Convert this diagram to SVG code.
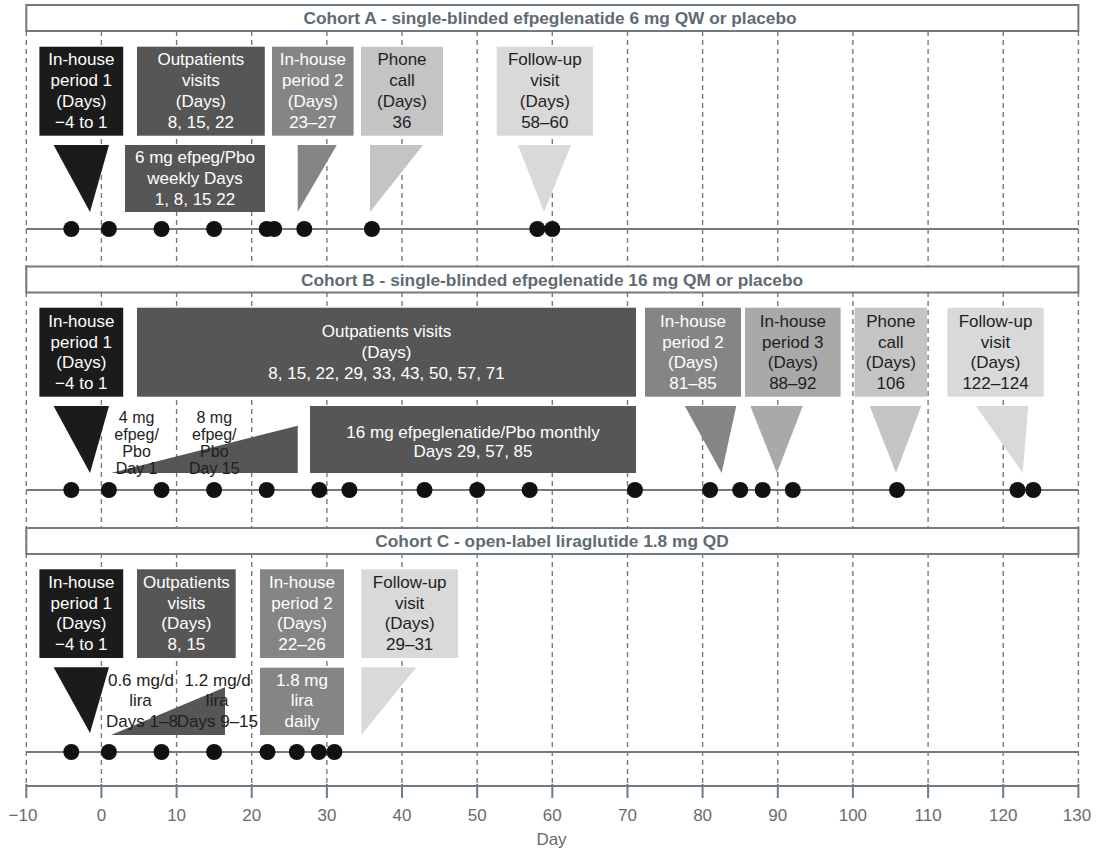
<svg xmlns="http://www.w3.org/2000/svg" width="1099" height="850" viewBox="0 0 1099 850">
<style>
text{font-family:"Liberation Sans",Arial,sans-serif;font-size:17px;text-anchor:middle}
.hdr{font-weight:bold;fill:#5e6b73;font-size:17.3px}
.hbox{fill:#fff;stroke:#6e7b84;stroke-width:2}
.base{stroke:#6e7b84;stroke-width:2;fill:none}
.grid{stroke:#7a7a7a;stroke-width:1.4;stroke-dasharray:5 4;fill:none}
.k1{fill:#1b1b1b}.k2{fill:#565656}.k3{fill:#858585}.k4{fill:#a9a9a9}.k5{fill:#c4c4c4}.k6{fill:#d9d9d9}
.w{fill:#fff}.d{fill:#1e1e1e}
.sm{font-size:16px}
.dot{fill:#111}
.ax{fill:#6b6b6b}
</style>
<rect width="1099" height="850" fill="#fff"/>
<g id="grid">
<path class="grid" d="M26.3 31V786M101.4 31V786M176.6 31V786M251.7 31V786M326.9 31V786M402 31V786M477.2 31V786M552.3 31V786M627.5 31V786M702.6 31V786M777.8 31V786M852.9 31V786M928.1 31V786M1003.2 31V786M1078.4 31V786"/>
</g>
<g id="connectors">
<path class="base" d="M26.3 229H1078.4M26.3 490H1078.4M26.3 752H1078.4"/>
</g>
<g id="axis">
<path class="base" d="M26.3 786H1078.4M26.3 784V798M101.4 784V798M176.6 784V798M251.7 784V798M326.9 784V798M402 784V798M477.2 784V798M552.3 784V798M627.5 784V798M702.6 784V798M777.8 784V798M852.9 784V798M928.1 784V798M1003.2 784V798M1078.4 784V798"/>
<g class="ax">
<text x="23" y="821">−10</text><text x="101.4" y="821">0</text><text x="176.6" y="821">10</text><text x="251.7" y="821">20</text><text x="326.9" y="821">30</text><text x="402" y="821">40</text><text x="477.2" y="821">50</text><text x="552.3" y="821">60</text><text x="627.5" y="821">70</text><text x="702.6" y="821">80</text><text x="777.8" y="821">90</text><text x="852.9" y="821">100</text><text x="928.1" y="821">110</text><text x="1003.2" y="821">120</text><text x="1077" y="821">130</text>
<text x="551.5" y="845">Day</text>
</g>
</g>

<!-- Cohort A -->
<g id="cohortA-header"><rect class="hbox" x="26.3" y="5" width="1052.1" height="26"/><text class="hdr" x="550" y="24">Cohort A - single-blinded efpeglenatide 6 mg QW or placebo</text></g>
<g id="A-inhouse1"><rect class="k1" x="39.4" y="46.7" width="83.8" height="89"/><text class="w" x="81.3" y="65.2">In-house</text><text class="w" x="81.3" y="86.2">period 1</text><text class="w" x="81.3" y="107.2">(Days)</text><text class="w" x="81.3" y="128.2">−4 to 1</text></g>
<g id="A-outpatients"><rect class="k2" x="137" y="46.7" width="127.8" height="89"/><text class="w" x="200.9" y="65.2">Outpatients</text><text class="w" x="200.9" y="86.2">visits</text><text class="w" x="200.9" y="107.2">(Days)</text><text class="w" x="200.9" y="128.2">8, 15, 22</text></g>
<g id="A-inhouse2"><rect class="k3" x="272" y="46.7" width="81.6" height="89"/><text class="w" x="312.8" y="65.2">In-house</text><text class="w" x="312.8" y="86.2">period 2</text><text class="w" x="312.8" y="107.2">(Days)</text><text class="w" x="312.8" y="128.2">23–27</text></g>
<g id="A-phone"><rect class="k5" x="361" y="46.7" width="82" height="89"/><text class="d" x="402" y="65.2">Phone</text><text class="d" x="402" y="86.2">call</text><text class="d" x="402" y="107.2">(Days)</text><text class="d" x="402" y="128.2">36</text></g>
<g id="A-followup"><rect class="k6" x="496.7" y="46.7" width="96.3" height="89"/><text class="d" x="544.8" y="65.2">Follow-up</text><text class="d" x="544.8" y="86.2">visit</text><text class="d" x="544.8" y="107.2">(Days)</text><text class="d" x="544.8" y="128.2">58–60</text></g>
<g id="A-tri1"><polygon class="k1" points="53.6,145 109,145 90,212"/></g>
<g id="A-dose"><rect class="k2" x="125" y="145" width="140" height="67"/><text class="w" x="195" y="162.7">6 mg efpeg/Pbo</text><text class="w" x="195" y="184.3">weekly Days</text><text class="w" x="195" y="205.3">1, 8, 15 22</text></g>
<g id="A-tri2"><polygon class="k3" points="297.7,145 336.8,145 297.7,212"/></g>
<g id="A-tri3"><polygon class="k5" points="370,145 423,145 370,212"/></g>
<g id="A-tri4"><polygon class="k6" points="518,145 571,145 544,212"/></g>
<g id="A-dots" class="dot"><circle cx="71.3" cy="229" r="8"/><circle cx="108.9" cy="229" r="8"/><circle cx="161.5" cy="229" r="8"/><circle cx="214.1" cy="229" r="8"/><circle cx="266.7" cy="229" r="8"/><circle cx="274.2" cy="229" r="8"/><circle cx="304.3" cy="229" r="8"/><circle cx="371.9" cy="229" r="8"/><circle cx="537.3" cy="229" r="8"/><circle cx="552.3" cy="229" r="8"/></g>

<!-- Cohort B -->
<g id="cohortB-header"><rect class="hbox" x="26.3" y="266.5" width="1052.1" height="26"/><text class="hdr" x="552" y="285.5">Cohort B - single-blinded efpeglenatide 16 mg QM or placebo</text></g>
<g id="B-inhouse1"><rect class="k1" x="39.4" y="307.7" width="83.8" height="89"/><text class="w" x="81.3" y="326.5">In-house</text><text class="w" x="81.3" y="347.5">period 1</text><text class="w" x="81.3" y="368.3">(Days)</text><text class="w" x="81.3" y="389">−4 to 1</text></g>
<g id="B-outpatients"><rect class="k2" x="137" y="307.7" width="499" height="89"/><text class="w" x="386.5" y="337">Outpatients visits</text><text class="w" x="386.5" y="358">(Days)</text><text class="w" x="386.5" y="379">8, 15, 22, 29, 33, 43, 50, 57, 71</text></g>
<g id="B-inhouse2"><rect class="k3" x="645" y="307.7" width="96" height="89"/><text class="w" x="693" y="326.5">In-house</text><text class="w" x="693" y="347.5">period 2</text><text class="w" x="693" y="368.3">(Days)</text><text class="w" x="693" y="389">81–85</text></g>
<g id="B-inhouse3"><rect class="k4" x="745" y="307.7" width="95.6" height="89"/><text class="d" x="792.8" y="326.5">In-house</text><text class="d" x="792.8" y="347.5">period 3</text><text class="d" x="792.8" y="368.3">(Days)</text><text class="d" x="792.8" y="389">88–92</text></g>
<g id="B-phone"><rect class="k5" x="854.6" y="307.7" width="72.4" height="89"/><text class="d" x="890.8" y="326.5">Phone</text><text class="d" x="890.8" y="347.5">call</text><text class="d" x="890.8" y="368.3">(Days)</text><text class="d" x="890.8" y="389">106</text></g>
<g id="B-followup"><rect class="k6" x="947.4" y="307.7" width="96.3" height="89"/><text class="d" x="995.5" y="326.5">Follow-up</text><text class="d" x="995.5" y="347.5">visit</text><text class="d" x="995.5" y="368.3">(Days)</text><text class="d" x="995.5" y="389">122–124</text></g>
<g id="B-tri1"><polygon class="k1" points="53.6,406 109,406 90,473"/></g>
<g id="B-ramp"><polygon class="k2" points="111,473 297.7,425.7 297.7,473"/>
<text class="d sm" x="136.6" y="423">4 mg</text><text class="d sm" x="136.6" y="440">efpeg/</text><text class="d sm" x="136.6" y="457">Pbo</text><text class="d sm" x="136.6" y="474">Day 1</text>
<text class="d sm" x="214.3" y="423">8 mg</text><text class="d sm" x="214.3" y="440">efpeg/</text><text class="d sm" x="214.3" y="457">Pbo</text><text class="d sm" x="214.3" y="474">Day 15</text></g>
<g id="B-dose"><rect class="k2" x="310" y="406" width="326" height="67"/><text class="w" x="473" y="437.7">16 mg efpeglenatide/Pbo monthly</text><text class="w" x="473" y="457">Days 29, 57, 85</text></g>
<g id="B-tri2"><polygon class="k3" points="684.8,406 736.3,406 721.6,473"/></g>
<g id="B-tri3"><polygon class="k4" points="750.3,406 802.8,406 776.9,473"/></g>
<g id="B-tri4"><polygon class="k5" points="869.7,406 921.2,406 896,473"/></g>
<g id="B-tri5"><polygon class="k6" points="976,406 1028.3,406 1022.7,473"/></g>
<g id="B-dots" class="dot"><circle cx="71.3" cy="490" r="8"/><circle cx="108.9" cy="490" r="8"/><circle cx="161.5" cy="490" r="8"/><circle cx="214.1" cy="490" r="8"/><circle cx="266.7" cy="490" r="8"/><circle cx="319.3" cy="490" r="8"/><circle cx="349.4" cy="490" r="8"/><circle cx="424.5" cy="490" r="8"/><circle cx="477.2" cy="490" r="8"/><circle cx="529.7" cy="490" r="8"/><circle cx="635" cy="490" r="8"/><circle cx="710.1" cy="490" r="8"/><circle cx="740.2" cy="490" r="8"/><circle cx="762.7" cy="490" r="8"/><circle cx="792.8" cy="490" r="8"/><circle cx="897" cy="490" r="8"/><circle cx="1017.5" cy="490" r="8"/><circle cx="1033.3" cy="490" r="8"/></g>

<!-- Cohort C -->
<g id="cohortC-header"><rect class="hbox" x="26.3" y="528" width="1052.1" height="26"/><text class="hdr" x="552" y="547">Cohort C - open-label liraglutide 1.8 mg QD</text></g>
<g id="C-inhouse1"><rect class="k1" x="39.4" y="569.3" width="83.8" height="88.7"/><text class="w" x="81.3" y="587.5">In-house</text><text class="w" x="81.3" y="608.5">period 1</text><text class="w" x="81.3" y="629.3">(Days)</text><text class="w" x="81.3" y="649.7">−4 to 1</text></g>
<g id="C-outpatients"><rect class="k2" x="137" y="569.3" width="98.7" height="88.7"/><text class="w" x="186.4" y="587.5">Outpatients</text><text class="w" x="186.4" y="608.5">visits</text><text class="w" x="186.4" y="629.3">(Days)</text><text class="w" x="186.4" y="649.7">8, 15</text></g>
<g id="C-inhouse2"><rect class="k3" x="260" y="569.3" width="84" height="88.7"/><text class="w" x="302" y="587.5">In-house</text><text class="w" x="302" y="608.5">period 2</text><text class="w" x="302" y="629.3">(Days)</text><text class="w" x="302" y="649.7">22–26</text></g>
<g id="C-followup"><rect class="k6" x="361.3" y="569.3" width="96.7" height="88.7"/><text class="d" x="409.7" y="587.5">Follow-up</text><text class="d" x="409.7" y="608.5">visit</text><text class="d" x="409.7" y="629.3">(Days)</text><text class="d" x="409.7" y="649.7">29–31</text></g>
<g id="C-tri1"><polygon class="k1" points="53.6,667.3 109,667.3 90,733"/></g>
<g id="C-ramp"><polygon class="k2" points="111,735 225,687.3 225,735"/>
<text class="d" x="141" y="686">0.6 mg/d</text><text class="d" x="140.5" y="706">lira</text><text class="d" x="142" y="726.5">Days 1–8</text>
<text class="d" x="217.7" y="686">1.2 mg/d</text><text class="d" x="217.2" y="706">lira</text><text class="d" x="217.4" y="726.5">Days 9–15</text></g>
<g id="C-dose"><rect class="k3" x="260" y="667.7" width="84" height="67.3"/><text class="w" x="302" y="686">1.8 mg</text><text class="w" x="302" y="706">lira</text><text class="w" x="302" y="726.5">daily</text></g>
<g id="C-tri2"><polygon class="k6" points="361.3,667.3 416.4,667.3 361.3,735"/></g>
<g id="C-dots" class="dot"><circle cx="71.3" cy="752" r="8"/><circle cx="108.9" cy="752" r="8"/><circle cx="161.5" cy="752" r="8"/><circle cx="214.1" cy="752" r="8"/><circle cx="267.5" cy="752" r="8"/><circle cx="296.8" cy="752" r="8"/><circle cx="318.8" cy="752" r="8"/><circle cx="334.4" cy="752" r="8"/></g>
</svg>
